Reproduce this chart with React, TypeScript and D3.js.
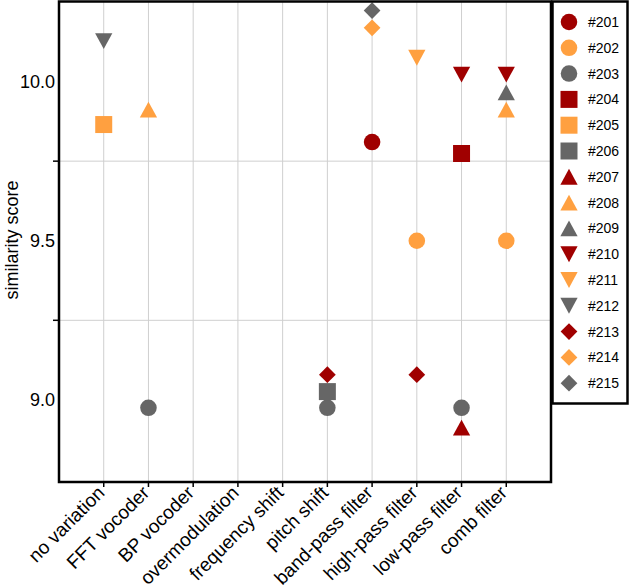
import * as d3 from "d3";

const categories = [
  "no variation",
  "FFT vocoder",
  "BP vocoder",
  "overmodulation",
  "frequency shift",
  "pitch shift",
  "band-pass filter",
  "high-pass filter",
  "low-pass filter",
  "comb filter",
];

const seriesNames = [
  "#201", "#202", "#203", "#204", "#205", "#206", "#207", "#208",
  "#209", "#210", "#211", "#212", "#213", "#214", "#215",
];

// [category, similarity score] per series
const seriesPoints: [string, number][][] = [
  [["band-pass filter", 9.81]],
  [["high-pass filter", 9.5], ["comb filter", 9.5]],
  [["FFT vocoder", 8.975], ["pitch shift", 8.975], ["low-pass filter", 8.975]],
  [["low-pass filter", 9.774]],
  [["no variation", 9.865]],
  [["pitch shift", 9.026]],
  [["low-pass filter", 8.913]],
  [["FFT vocoder", 9.912], ["comb filter", 9.912]],
  [["comb filter", 9.966]],
  [["low-pass filter", 10.022], ["comb filter", 10.022]],
  [["high-pass filter", 10.075]],
  [["no variation", 10.127]],
  [["pitch shift", 9.079], ["high-pass filter", 9.079]],
  [["band-pass filter", 10.169]],
  [["band-pass filter", 10.223]],
];

const yLabelTicks = [9.0, 9.5, 10.0];
const yGridTicks = [9.25, 9.75];

const palette = ["#A00000", "#FFA040", "#666666"];

const triUp = {
  draw(ctx: any, size: number) {
    const w = Math.sqrt(size) * 1.05;
    const h = w * 0.92;
    ctx.moveTo(0, -h / 2);
    ctx.lineTo(w / 2, h / 2);
    ctx.lineTo(-w / 2, h / 2);
    ctx.closePath();
  },
};
const triDown = {
  draw(ctx: any, size: number) {
    const w = Math.sqrt(size) * 1.05;
    const h = w * 0.92;
    ctx.moveTo(0, h / 2);
    ctx.lineTo(w / 2, -h / 2);
    ctx.lineTo(-w / 2, -h / 2);
    ctx.closePath();
  },
};
const diamond = {
  draw(ctx: any, size: number) {
    const r = Math.sqrt(size) / 2;
    ctx.moveTo(0, -r);
    ctx.lineTo(r, 0);
    ctx.lineTo(0, r);
    ctx.lineTo(-r, 0);
    ctx.closePath();
  },
};

const shapes: [any, number][] = [
  [d3.symbolCircle, 215],
  [d3.symbolSquare, 289],
  [triUp, 270],
  [triDown, 270],
  [diamond, 280],
];

const symbolPath = (i: number) => {
  const [type, size] = shapes[Math.floor(i / 3)];
  return d3.symbol().type(type).size(size)() as string;
};

const W = 630;
const H = 588;
const left = 59;
const right = 551;
const top = 1.5;
const bottom = 482;

export default function App() {
  const x = d3.scalePoint<string>().domain(categories).range([left, right]).padding(1);
  const y = d3.scaleLinear().domain([8.742, 10.25]).range([bottom, 2]);
  const font = "Liberation Sans, Arial, sans-serif";

  return (
    <div style={{ position: "absolute", left: 0, top: 0 }}>
      <svg width={W} height={H} style={{ display: "block", fontFamily: font }}>
        <rect x={0} y={0} width={W} height={H} fill="#fff" />
        {/* grid */}
        {categories.map((c) => (
          <line key={c} x1={x(c)} x2={x(c)} y1={top} y2={bottom} stroke="#cfcfcf" strokeWidth={1} />
        ))}
        {yGridTicks.map((t) => (
          <line key={t} x1={left} x2={right} y1={y(t)} y2={y(t)} stroke="#cfcfcf" strokeWidth={1} />
        ))}
        {/* ticks */}
        {yGridTicks.map((t) => (
          <line key={"t" + t} x1={left - 6} x2={left} y1={y(t)} y2={y(t)} stroke="#000" strokeWidth={1.5} />
        ))}
        {categories.map((c) => (
          <line key={"t" + c} x1={x(c)} x2={x(c)} y1={bottom} y2={bottom + 5} stroke="#000" strokeWidth={1.5} />
        ))}
        {yLabelTicks.map((t) => (
          <text key={"l" + t} x={55} y={y(t)} dy="0.35em" textAnchor="end" fontSize={18} fill="#000">
            {d3.format(".1f")(t)}
          </text>
        ))}
        {categories.map((c) => (
          <text
            key={"l" + c}
            transform={`translate(${(x(c) as number) + 2},${bottom + 12}) rotate(-45)`}
            textAnchor="end"
            fontSize={19}
            fill="#000"
          >
            {c}
          </text>
        ))}
        <text
          transform={`translate(18,240) rotate(-90)`}
          textAnchor="middle"
          fontSize={18}
          fill="#000"
        >
          similarity score
        </text>
        {/* points */}
        {seriesPoints.map((pts, i) =>
          pts.map(([c, v], j) => (
            <path
              key={i + "-" + j}
              d={symbolPath(i)}
              transform={`translate(${x(c)},${y(v)})`}
              fill={palette[i % 3]}
            />
          ))
        )}
        {/* frame */}
        <rect x={left} y={top} width={right - left} height={bottom - top} fill="none" stroke="#000" strokeWidth={2.5} />
        {/* legend */}
        <rect x={552.5} y={1.5} width={75} height={402} fill="#fff" stroke="#000" strokeWidth={2.5} />
        {seriesNames.map((n, i) => {
          const ly = 22 + i * 25.8;
          return (
            <g key={n} transform={`translate(569,${ly})`}>
              <path d={symbolPath(i)} fill={palette[i % 3]} />
              <text x={19} dy="0.35em" fontSize={14} fill="#000">
                {n}
              </text>
            </g>
          );
        })}
      </svg>
    </div>
  );
}
